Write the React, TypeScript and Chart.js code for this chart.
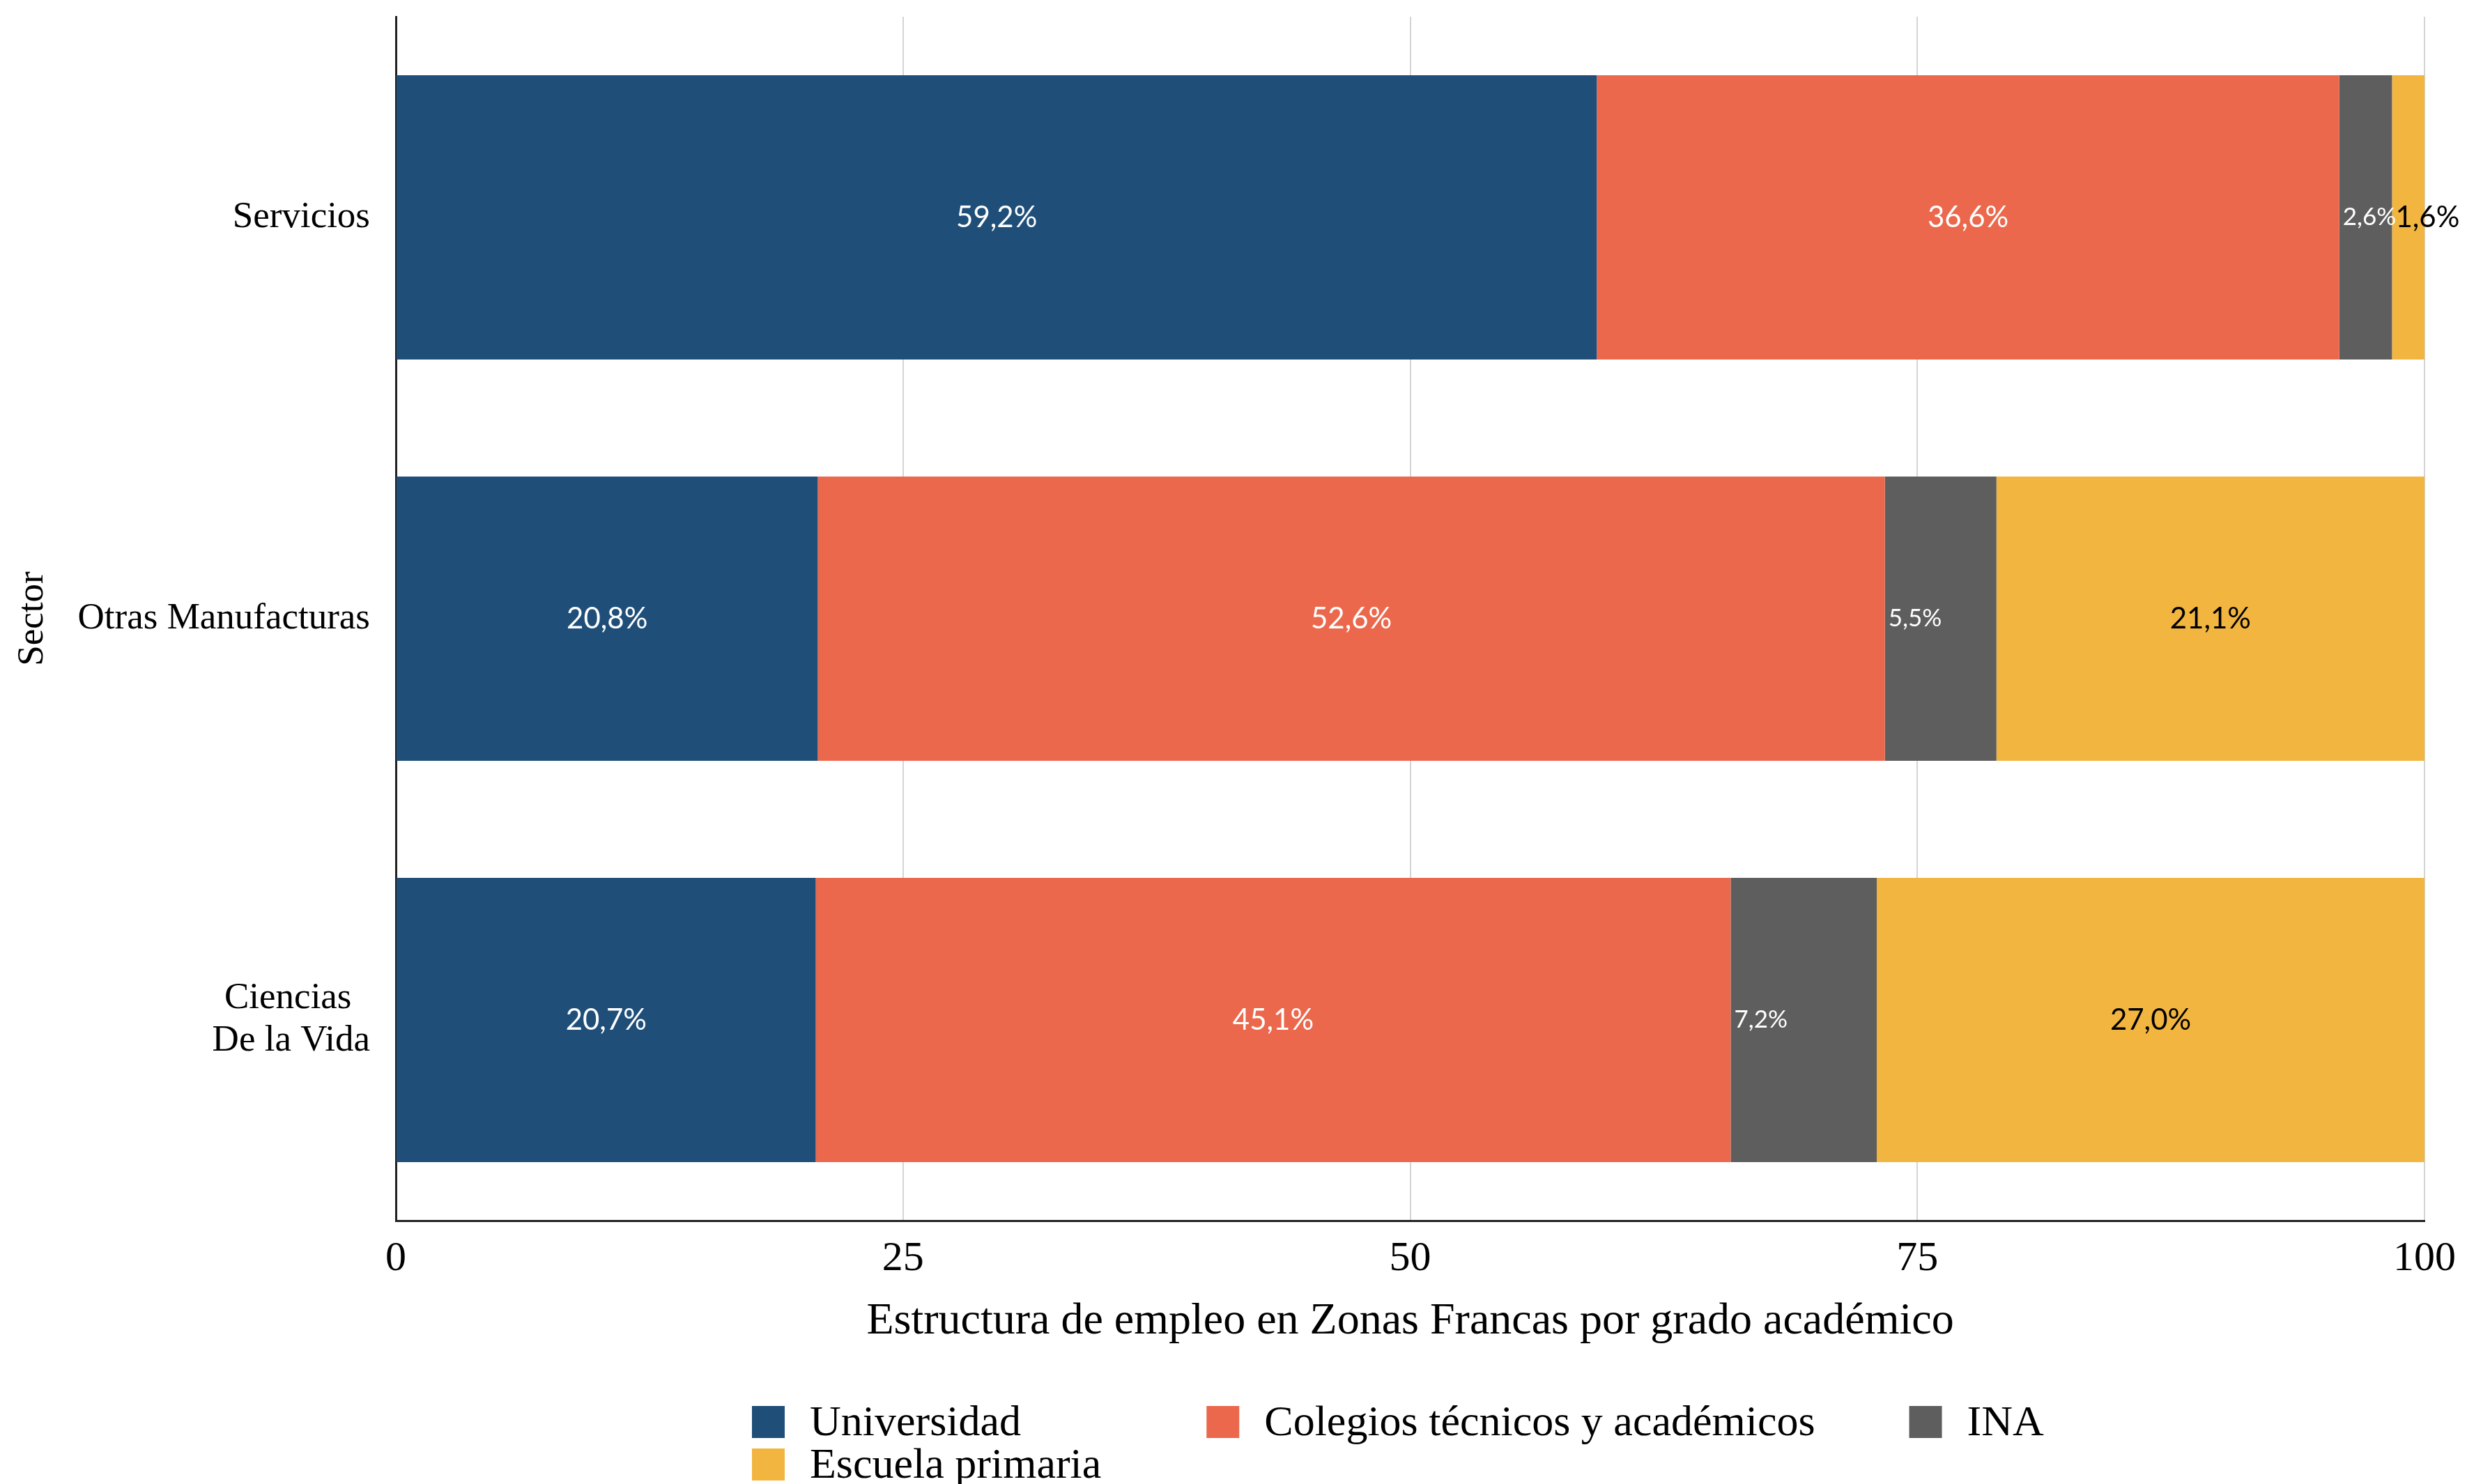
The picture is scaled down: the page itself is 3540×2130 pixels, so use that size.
import { useEffect, useRef } from "react";
import { Chart, registerables } from "chart.js";

Chart.register(...registerables);

// ---- Data ----
const categories: (string | string[])[] = [
  "Servicios",
  "Otras Manufacturas",
  ["Ciencias  ", "De la Vida"],
];
const seriesNames = [
  "Universidad",
  "Colegios técnicos y académicos",
  "INA",
  "Escuela primaria",
];
const universidad = [59.2, 20.8, 20.7];
const colegios = [36.6, 52.6, 45.1];
const ina = [2.6, 5.5, 7.2];
const escuela = [1.6, 21.1, 27.0];
const xTicks = [0, 25, 50, 75, 100];
const xTitle = "Estructura de empleo en Zonas Francas por grado académico";
const yTitle = "Sector";

// ---- Styles ----
const colors = ["#1F4E79", "#EB684C", "#5E5E5E", "#F2B640"];
const labelColors = ["#FFFFFF", "#FFFFFF", "#FFFFFF", "#000000"];
const SERIF = '"Liberation Serif", "Times New Roman", serif';
const SANS = 'Lato, "Open Sans", sans-serif';

const fmt = (v: number) => v.toFixed(1).replace(".", ",") + "%";

const segLabelPlugin = {
  id: "segLabels",
  afterDatasetsDraw(chart: any) {
    const ctx = chart.ctx;
    chart.data.datasets.forEach((ds: any, di: number) => {
      const meta = chart.getDatasetMeta(di);
      meta.data.forEach((el: any, i: number) => {
        const v = ds.data[i] as number;
        const small = v < 10;
        const size = small && di !== 3 ? 35 : 42;
        ctx.save();
        ctx.font = `${size}px ${SANS}`;
        ctx.fillStyle = labelColors[di];
        ctx.textBaseline = "middle";
        const text = fmt(v);
        const left = Math.min(el.x, el.base);
        if (small) {
          ctx.textAlign = "left";
          ctx.fillText(text, left + 5, el.y);
        } else {
          ctx.textAlign = "center";
          ctx.fillText(text, (el.x + el.base) / 2, el.y);
        }
        ctx.restore();
      });
    });
  },
};

const gridLegendPlugin = {
  id: "gridLegend",
  afterDraw(chart: any) {
    const ctx = chart.ctx;
    ctx.save();
    ctx.font = `62px ${SERIF}`;
    const rows = [[0, 1, 2], [3]];
    const nCols = 3;
    const colW: number[] = [];
    for (let c = 0; c < nCols; c++) {
      let w = 0;
      rows.forEach((row) => {
        if (row[c] !== undefined) w = Math.max(w, ctx.measureText(seriesNames[row[c]]).width);
      });
      colW.push(w);
    }
    const box = 47;
    const gap = 36;
    const colGaps = [151, 135];
    const itemW = colW.map((w) => box + gap + w);
    const x0 = chart.chartArea.left + 511;
    rows.forEach((row, r) => {
      const baseline = chart.height - 70 + r * 61;
      let x = x0;
      row.forEach((di, c) => {
        ctx.fillStyle = colors[di];
        ctx.fillRect(x, baseline - 42, box, 46);
        ctx.fillStyle = "#000000";
        ctx.textBaseline = "alphabetic";
        ctx.textAlign = "left";
        ctx.fillText(seriesNames[di], x + box + gap, baseline);
        x += itemW[c] + (colGaps[c] || 0);
      });
    });
    ctx.restore();
  },
};

export default function App() {
  const canvasRef = useRef<HTMLCanvasElement | null>(null);

  useEffect(() => {
    if (!canvasRef.current) return;
    const seriesData = [universidad, colegios, ina, escuela];
    const chart = new Chart(canvasRef.current, {
      type: "bar",
      data: {
        labels: categories,
        datasets: seriesData.map((d, i) => ({
          label: seriesNames[i],
          data: d,
          backgroundColor: colors[i],
          borderWidth: 0,
          barPercentage: 0.708,
          categoryPercentage: 1,
        })),
      },
      options: {
        indexAxis: "y",
        animation: false,
        responsive: false,
        devicePixelRatio: 1,
        layout: { padding: { top: 24, right: 61, bottom: 158, left: 0 } },
        plugins: {
          legend: { display: false },
          tooltip: { enabled: false },
        },
        scales: {
          x: {
            stacked: true,
            min: 0,
            max: 100,
            afterBuildTicks: (s: any) => {
              s.ticks = xTicks.map((v) => ({ value: v }));
            },
            afterFit: (s: any) => {
              s.height = 220;
              s.paddingLeft = 0;
              s.paddingRight = 0;
            },
            grid: {
              drawTicks: false,
              color: (c: any) => (c.tick && c.tick.value === 0 ? "rgba(0,0,0,0)" : "#D4D4D4"),
              lineWidth: 2,
            },
            border: { display: true, color: "#222222", width: 3 },
            ticks: {
              padding: 19,
              color: "#000000",
              font: { family: SERIF, size: 60 },
              maxRotation: 0,
              autoSkip: false,
            },
            title: {
              display: true,
              text: xTitle,
              color: "#000000",
              font: { family: SERIF, size: 64 },
              padding: { top: 0, bottom: 36 },
            },
          },
          y: {
            stacked: true,
            afterFit: (s: any) => {
              s.width = 568;
              s.paddingTop = 0;
              s.paddingBottom = 0;
            },
            grid: { display: false, drawTicks: false },
            border: { display: true, color: "#222222", width: 3 },
            ticks: {
              padding: 37,
              color: "#000000",
              font: { family: SERIF, size: 53, lineHeight: 1.15 },
            },
            title: {
              display: true,
              text: yTitle,
              color: "#000000",
              font: { family: SERIF, size: 53 },
              padding: { top: 15, bottom: 0 },
            },
          },
        },
      },
      plugins: [segLabelPlugin, gridLegendPlugin],
    } as any);
    return () => chart.destroy();
  }, []);

  return (
    <div style={{ position: "absolute", left: 0, top: 0, width: 3540, height: 2130, background: "#FFFFFF" }}>
      <canvas ref={canvasRef} width={3540} height={2130} style={{ display: "block" }} />
    </div>
  );
}
